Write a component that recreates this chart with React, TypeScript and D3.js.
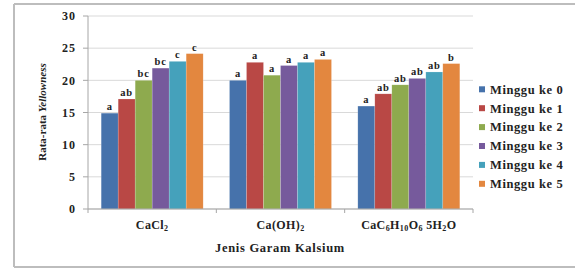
import React from "react";
import * as d3 from "d3";

// categories (with subscript parts: [text, isSub])
const categories = ["CaCl2", "Ca(OH)2", "Ca-laktat"];
const categoryParts: [string, boolean][][] = [
  [["CaCl", false], ["2", true]],
  [["Ca(OH)", false], ["2", true]],
  [["CaC", false], ["6", true], ["H", false], ["10", true], ["O", false], ["6", true], [" 5H", false], ["2", true], ["O", false]],
];
const series = ["Minggu ke 0", "Minggu ke 1", "Minggu ke 2", "Minggu ke 3", "Minggu ke 4", "Minggu ke 5"];
const colors = ["#4672AB", "#B94845", "#8EAA4E", "#765A9C", "#45A1BB", "#E3873F"];

// values per series (one value per category)
const week0 = [14.9, 20.0, 16.0];
const week1 = [17.1, 22.8, 17.9];
const week2 = [20.0, 20.8, 19.3];
const week3 = [21.9, 22.3, 20.3];
const week4 = [22.95, 22.8, 21.3];
const week5 = [24.15, 23.25, 22.6];
const values = [week0, week1, week2, week3, week4, week5];

// significance letters per series
const letters0 = ["a", "a", "a"];
const letters1 = ["ab", "a", "ab"];
const letters2 = ["bc", "a", "ab"];
const letters3 = ["bc", "a", "ab"];
const letters4 = ["c", "a", "ab"];
const letters5 = ["c", "a", "b"];
const letters = [letters0, letters1, letters2, letters3, letters4, letters5];

const yTicks = [0, 5, 10, 15, 20, 25, 30];

const font = "'Liberation Serif', 'Times New Roman', serif";

export default function App() {
  const width = 575;
  const height = 269;
  const plot = { left: 88, right: 473, top: 16, bottom: 209 };

  const x0 = d3.scaleBand<string>().domain(categories).range([plot.left, plot.right]).paddingInner(0).paddingOuter(0);
  const x1 = d3.scaleBand<string>().domain(series).range([0, x0.bandwidth()]).paddingInner(0).paddingOuter(0.775);
  const y = d3.scaleLinear().domain([0, 30]).range([plot.bottom, plot.top]);

  const bandEdges = [...categories.map((c) => x0(c)!), plot.right];

  return (
    <svg width={width} height={height} style={{ position: "absolute", left: 0, top: 0, background: "#fff" }} fontFamily={font}>
      {/* frame */}
      <line x1={14} x2={575} y1={4} y2={4} stroke="#BDBDBD" strokeWidth={2} />
      <line x1={14} x2={14} y1={4} y2={267} stroke="#BDBDBD" strokeWidth={2} />
      <line x1={14} x2={575} y1={267} y2={267} stroke="#BDBDBD" strokeWidth={2} />

      {/* gridlines */}
      {yTicks.map((t) => (
        <line key={"g" + t} x1={plot.left} x2={plot.right} y1={y(t)} y2={y(t)} stroke="#D9D9D9" strokeWidth={1} />
      ))}

      {/* y axis */}
      <line x1={plot.left} x2={plot.left} y1={plot.top} y2={plot.bottom} stroke="#A6A6A6" />
      {yTicks.map((t) => (
        <g key={"t" + t}>
          <line x1={plot.left - 5} x2={plot.left} y1={y(t)} y2={y(t)} stroke="#A6A6A6" />
          <text x={76} y={y(t)} dy="0.35em" textAnchor="end" fontSize={12} letterSpacing={1} fontWeight="bold" fill="#222">
            {t}
          </text>
        </g>
      ))}

      {/* bars */}
      {series.map((s, si) =>
        categories.map((c, ci) => {
          const v = values[si][ci];
          const bx = x0(c)! + x1(s)!;
          return (
            <g key={s + c}>
              <rect x={bx} y={y(v)} width={x1.bandwidth()} height={y(0) - y(v)} fill={colors[si]} stroke="#ffffff" strokeOpacity={0.35} strokeWidth={0.5} />
              <text x={bx + x1.bandwidth() / 2} y={y(v) - 3} textAnchor="middle" fontSize={10.5} letterSpacing={0.8} fontWeight="bold" fill="#222">
                {letters[si][ci]}
              </text>
            </g>
          );
        })
      )}

      {/* x axis */}
      <line x1={plot.left} x2={plot.right} y1={plot.bottom} y2={plot.bottom} stroke="#A6A6A6" />
      {bandEdges.map((e, i) => (
        <line key={"xt" + i} x1={e} x2={e} y1={plot.bottom} y2={plot.bottom + 4} stroke="#A6A6A6" />
      ))}

      {/* category labels */}
      {categories.map((c, ci) => (
        <text key={"cl" + c} x={x0(c)! + x0.bandwidth() / 2} y={229} textAnchor="middle" fontSize={12} letterSpacing={0.4} fontWeight="bold" fill="#222">
          {categoryParts[ci].map(([t, sub], k) => (
            <tspan key={k} fontSize={sub ? 8 : 12} dy={sub ? 2 : k > 0 && categoryParts[ci][k - 1][1] ? -2 : 0}>
              {t}
            </tspan>
          ))}
        </text>
      ))}

      {/* axis titles */}
      <text x={280} y={252} textAnchor="middle" fontSize={12.5} letterSpacing={0.7} fontWeight="bold" fill="#222">
        Jenis Garam Kalsium
      </text>
      <text transform={`translate(46,${112}) rotate(-90)`} textAnchor="middle" fontSize={11} fontWeight="bold" fill="#222">
        Rata-rata <tspan fontStyle="italic">Yellowness</tspan>
      </text>

      {/* legend */}
      {series.map((s, si) => (
        <g key={"lg" + s} transform={`translate(479,${89.3 + si * 18.9})`}>
          <rect x={0} y={-3} width={6} height={6} fill={colors[si]} />
          <text x={11} y={0} dy="0.35em" fontSize={12.5} letterSpacing={0.6} fontWeight="bold" fill="#222">
            {s}
          </text>
        </g>
      ))}
    </svg>
  );
}
